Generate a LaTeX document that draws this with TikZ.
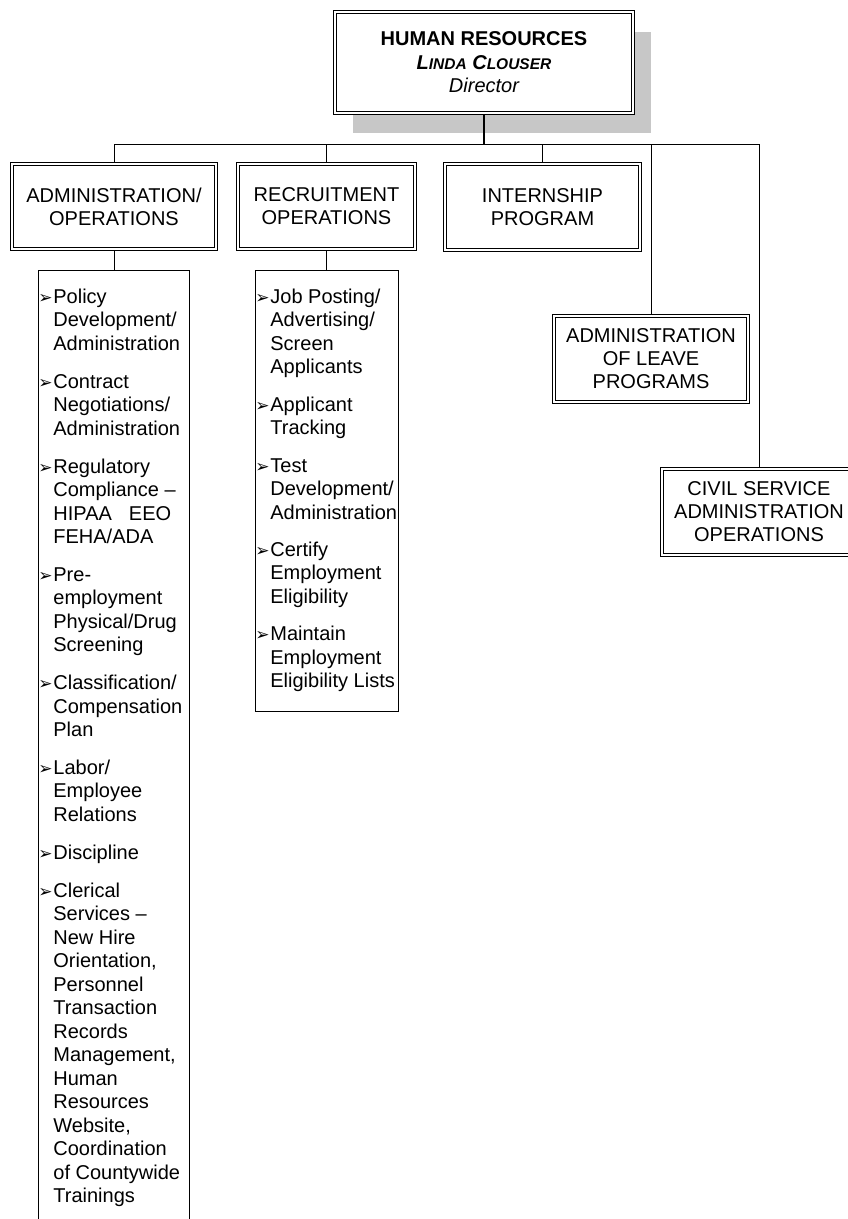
\documentclass[tikz,border=0pt]{standalone}
\usepackage{fontspec}
\setmainfont{Liberation Sans}
\newfontfamily\arrowfont{DejaVu Sans}
\usetikzlibrary{shadows}

\tikzstyle{deptbox} = [draw=black, fill=white, line width=0.8pt,
    double=white, double distance=2pt, outer sep=1.8pt, inner sep=0pt,
    rectangle, align=center, font=\fontsize{20}{23}\selectfont]
\tikzstyle{listbox} = [draw=black, fill=white, line width=0.8pt,
    rectangle, inner sep=0pt, anchor=north west, text height=33pt,
    font=\fontsize{20}{23.5}\selectfont]
\tikzstyle{link} = [line width=0.9pt]

\newcommand{\hrpoint}{\par\hangindent=15pt\hangafter=1%
    \makebox[15pt][l]{\arrowfont\fontsize{17}{17}\selectfont ➢}}
\newcommand{\smallcap}[1]{{\fontsize{15.5}{20}\selectfont #1}}
\newcommand{\listsetup}[1]{\setlength{\parindent}{0pt}\setlength{\parskip}{#1}%
    \hyphenpenalty=10000 \exhyphenpenalty=10000 \hbadness=10000}

\begin{document}
\begin{tikzpicture}[x=1pt, y=-1pt]
    \useasboundingbox (0,0) rectangle (847,1219);

    % director
    \node [deptbox, minimum width=298pt, minimum height=101pt,
        font=\fontsize{20}{23.5}\selectfont,
        drop shadow={shadow xshift=18pt, shadow yshift=-20pt, fill=black!22, opacity=1}]
        (hr) at (484,62.5) {%
        {\bfseries HUMAN RESOURCES}\\
        {\bfseries\itshape L\smallcap{INDA} C\smallcap{LOUSER}}\\
        {\itshape Director}};

    % divisions
    \node [deptbox, minimum width=204pt, minimum height=85pt] (admin) at (114,206.5)
        {ADMINISTRATION/\\OPERATIONS};
    \node [deptbox, minimum width=177pt, minimum height=85pt] (recruit) at (326.5,206.5)
        {RECRUITMENT\\OPERATIONS};
    \node [deptbox, minimum width=195pt, minimum height=86pt] (intern) at (542.5,207)
        {INTERNSHIP\\PROGRAM};
    \node [deptbox, minimum width=194pt, minimum height=86pt] (leave) at (651,359)
        {ADMINISTRATION\\OF LEAVE\\PROGRAMS};
    \node [deptbox, minimum width=194pt, minimum height=86pt] (civil) at (759,512)
        {CIVIL SERVICE\\ADMINISTRATION\\OPERATIONS};

    % duty lists
    \node [listbox, text depth=937pt] (adminlist) at (38,270) {%
        \begin{minipage}[t]{151pt}
            \listsetup{14.3pt}
            \hrpoint Policy\\Development/\\Administration
            \hrpoint Contract\\Negotiations/\\Administration
            \hrpoint Regulatory\\Compliance~–\\\mbox{HIPAA\hspace{17pt}EEO}\\FEHA/ADA
            \hrpoint Pre-\\employment\\Physical/Drug\\Screening
            \hrpoint Classification/\\Compensation\\Plan
            \hrpoint Labor/\\Employee\\Relations
            \hrpoint Discipline
            \hrpoint Clerical\\Services~–\\New~Hire\\Orientation,\\Personnel\\Transaction\\Records\\Management,\\Human\\Resources\\Website,\\Coordination\\of~Countywide\\Trainings
            \par
        \end{minipage}};
    \node [listbox, text depth=408pt] (recruitlist) at (255,270) {%
        \begin{minipage}[t]{143pt}
            \listsetup{13.8pt}
            \hrpoint Job~Posting/\\Advertising/\\Screen\\Applicants
            \hrpoint Applicant\\Tracking
            \hrpoint Test\\Development/\\Administration
            \hrpoint Certify\\Employment\\Eligibility
            \hrpoint Maintain\\Employment\\Eligibility~Lists
            \par
        \end{minipage}};

    % connectors
    \coordinate (bus) at (0,144);
    \draw [line width=1.6pt] (hr.south) -- (hr.south |- bus);
    \draw [link] (admin.north) -- (admin.north |- bus) -- (civil.north |- bus) -- (civil.north);
    \foreach \d in {recruit,intern,leave}
        \draw [link] (\d.north) -- (\d.north |- bus);
    \draw [link] (admin.south) -- (admin.south |- adminlist.north);
    \draw [link] (recruit.south) -- (recruit.south |- recruitlist.north);
\end{tikzpicture}
\end{document}
